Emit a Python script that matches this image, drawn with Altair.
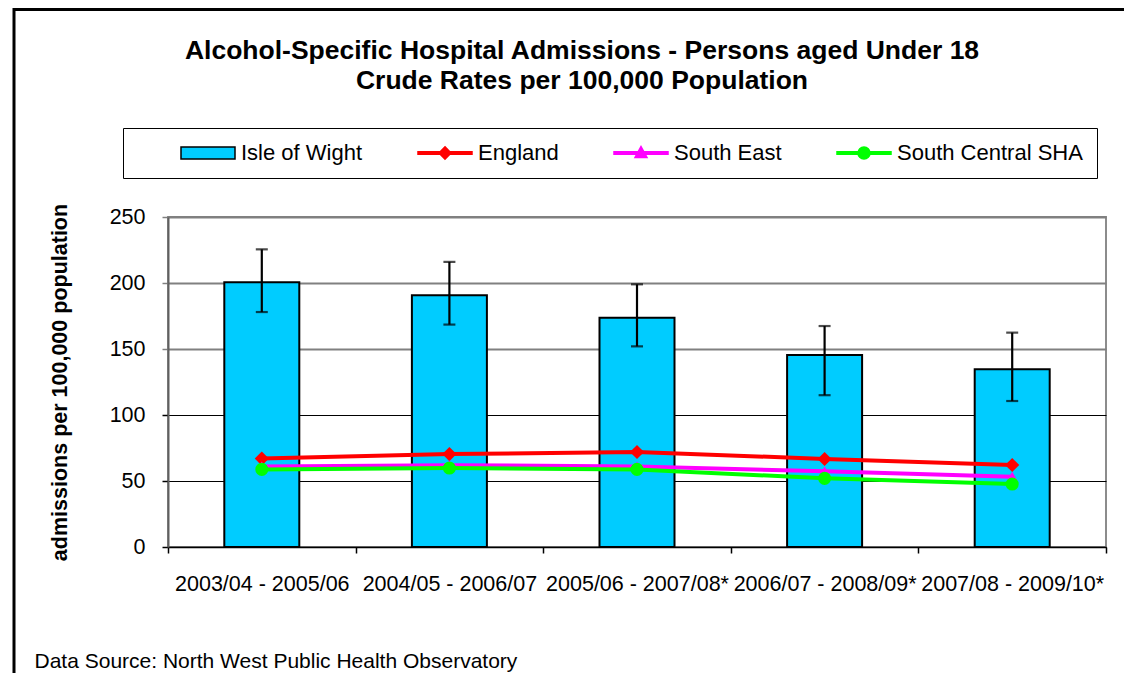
import altair as alt
import pandas as pd

periods = ["2003/04 - 2005/06", "2004/05 - 2006/07", "2005/06 - 2007/08*",
           "2006/07 - 2008/09*", "2007/08 - 2009/10*"]
iow = [200.5, 190.7, 173.7, 145.5, 134.6]
iow_low = [178.0, 168.5, 152.0, 115.0, 110.6]
iow_high = [225.5, 216.0, 199.0, 167.4, 162.4]
england = [67.0, 70.4, 72.0, 66.7, 62.1]
south_east = [61.0, 62.0, 61.0, 57.3, 53.3]
south_central = [58.8, 59.8, 58.8, 52.0, 47.7]

series_names = ["Isle of Wight", "England", "South East", "South Central SHA"]
series_fill = ["#00CCFF", "#FF0000", "#FF00FF", "#00FF00"]
series_stroke = ["#000000", "#FF0000", "#FF00FF", "#00FF00"]
# legend glyphs: unit = 10px, drawn from x=-1 to x=4.4 (54px wide)
legend_paths = [
    "M-1,-0.6H4.4V0.6H-1Z",
    "M-1,-0.13H4.4V0.13H-1Z M1.7,-0.62L2.3,0L1.7,0.62L1.1,0Z",
    "M-1,-0.13H4.4V0.13H-1Z M1.7,-0.65L2.3,0.45H1.1Z",
    "M-1,-0.13H4.4V0.13H-1Z M1.1,0A0.6,0.6 0 1 1 2.3,0A0.6,0.6 0 1 1 1.1,0Z",
]

FONT = "Liberation Sans"

bars_df = pd.DataFrame({"period": periods, "value": iow, "low": iow_low, "high": iow_high})
lines = [("England", england, "#FF0000", "diamond", 200),
         ("South East", south_east, "#FF00FF", "triangle-up", 130),
         ("South Central SHA", south_central, "#00FF00", "circle", 170)]

W, H = 938, 330

x_enc = alt.X(
    "period:N", sort=periods,
    scale=alt.Scale(paddingInner=0, paddingOuter=0),
    axis=alt.Axis(
        title="Data Source: North West Public Health Observatory",
        titleX=-134, titleY=114, titleAlign="left", titleBaseline="middle",
        titleFontWeight="normal", titleFontSize=21, titleFont=FONT, titleColor="black",
        labelAngle=0, labelFontSize=21.5, labelFont=FONT, labelColor="black",
        labelPadding=20, labelLimit=400, labelOverlap=False,
        tickBand="extent", tickSize=6, tickColor="black", tickWidth=1.5,
        domainColor="black", domainWidth=1.5, grid=False,
    ),
)

y_scale = alt.Scale(domain=[0, 250], nice=False)
y_axis = alt.Axis(
    title="admissions per 100,000 population",
    titleFont=FONT, titleFontSize=21.5, titleFontWeight="bold", titleColor="black",
    titleX=-108, titleY=H / 2, titleAngle=-90, titleAlign="center", titleBaseline="middle",
    values=[0, 50, 100, 150, 200, 250],
    labelFont=FONT, labelFontSize=21.5, labelColor="black", labelPadding=17,
    tickSize=6,
    tickColor=alt.condition("datum.value >= 150", alt.value("#808080"), alt.value("black")),
    tickWidth=1.5,
    grid=True,
    gridColor=alt.condition("datum.value >= 150", alt.value("#808080"), alt.value("black")),
    gridWidth=alt.condition("datum.value >= 150", alt.value(1.8), alt.value(1.2)),
    domainColor="#606060", domainWidth=2,
)

base = alt.Chart(bars_df)

bars = base.mark_bar(fill="#00CCFF", stroke="black", strokeWidth=2, size=75).encode(
    x=x_enc,
    y=alt.Y("value:Q", scale=y_scale, axis=y_axis),
)
err = base.mark_rule(color="black", strokeWidth=2.2).encode(
    x=alt.X("period:N", sort=periods), y="low:Q", y2="high:Q")
cap_hi = base.mark_tick(color="black", thickness=2.2, size=12).encode(
    x=alt.X("period:N", sort=periods), y="high:Q")
cap_lo = base.mark_tick(color="black", thickness=2.2, size=12).encode(
    x=alt.X("period:N", sort=periods), y="low:Q")

frame = alt.Chart(alt.Data(values=[{}])).mark_rect(
    fill=None, stroke="black", strokeWidth=3, clip=False).encode(
    x=alt.value(-154), x2=alt.value(1400), y=alt.value(-207.5), y2=alt.value(900))

layers = [frame, bars, err, cap_hi, cap_lo]
for name, vals, col, shp, sz in lines:
    df = pd.DataFrame({"period": periods, "value": vals})
    c = alt.Chart(df)
    layers.append(c.mark_line(color=col, strokeWidth=4).encode(
        x=alt.X("period:N", sort=periods), y="value:Q"))
    layers.append(c.mark_point(filled=True, color=col, shape=shp, size=sz, opacity=1).encode(
        x=alt.X("period:N", sort=periods), y="value:Q"))

leg = alt.Legend(
    title=" ", titleOrient="left", titlePadding=43, titleFontSize=21,
    orient="none", legendX=-45, legendY=-89, direction="horizontal",
    strokeColor="black", padding=14, columnPadding=52,
    labelFont=FONT, labelFontSize=22, labelColor="black", labelOffset=39,
    symbolSize=400, symbolStrokeWidth=1.5, symbolOpacity=1, labelLimit=400,
)
legend_df = pd.DataFrame({"series": series_names})
legend_layer = alt.Chart(legend_df).mark_point(filled=True, opacity=1, clip=True).encode(
    x=alt.value(-5000), y=alt.value(-5000),
    fill=alt.Fill("series:N", scale=alt.Scale(domain=series_names, range=series_fill), legend=leg),
    stroke=alt.Stroke("series:N", scale=alt.Scale(domain=series_names, range=series_stroke), legend=leg),
    shape=alt.Shape("series:N", scale=alt.Scale(domain=series_names, range=legend_paths), legend=leg),
)
layers.append(legend_layer)

chart = alt.layer(*layers).properties(
    width=W, height=H,
    title=alt.TitleParams(
        text=["Alcohol-Specific Hospital Admissions - Persons aged Under 18",
              "Crude Rates per 100,000 Population"],
        font=FONT, fontSize=26.5, fontWeight="bold", color="black",
        anchor="middle", dx=-55, dy=86, offset=0, lineHeight=30,
    ),
    autosize=alt.AutoSizeParams(type="none"),
    padding={"left": 160, "top": 209, "right": 18, "bottom": 126},
    background="white",
).configure_view(stroke="#808080", strokeWidth=1.8)

chart.save("out.html", embed_options={"renderer": "svg", "actions": False})
